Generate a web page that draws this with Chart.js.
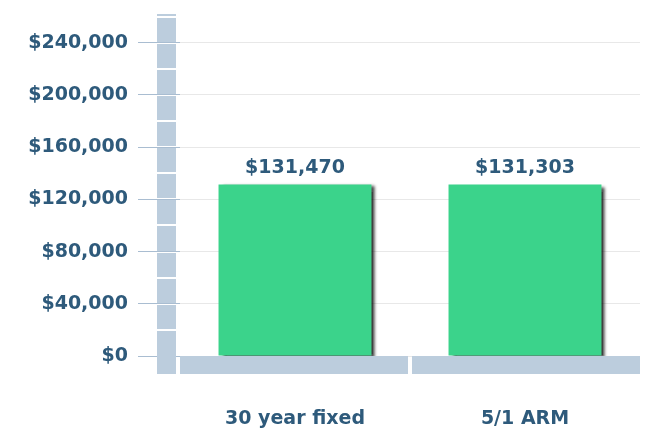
<!DOCTYPE html>
<html>
<head>
<meta charset="utf-8">
<script src="https://cdn.jsdelivr.net/npm/chart.js@4"></script>
<style>
  html, body { margin: 0; padding: 0; background: #ffffff; }
  #chart { display: block; }
</style>
</head>
<body>
<canvas id="chart" width="650" height="435"></canvas>
<script>
// データ
const categories = ["30 year fixed", "5/1 ARM"];
const totalCost = [131470, 131303];
const tickValues = [0, 40000, 80000, 120000, 160000, 200000, 240000];
const axisMax = 262000;

const textColor = "#2e5a7b";
const axisBlock = "#bccddd";
const barGreen = "#3bd38b";
const fontFamily = "'DejaVu Sans', sans-serif";

function money(v) {
  return "$" + v.toLocaleString("en-US");
}

// 棒の右側に影をつける
const shadowPlugin = {
  id: "barShadow",
  beforeDatasetDraw(chart) {
    const ctx = chart.ctx;
    ctx.save();
    ctx.shadowColor = "rgba(0,0,0,0.75)";
    ctx.shadowOffsetX = 4;
    ctx.shadowOffsetY = 2;
    ctx.shadowBlur = 3;
  },
  afterDatasetDraw(chart) {
    chart.ctx.restore();
  }
};

// 左の縦ブロックと下の横ブロック、棒の上の金額
const axisBlocksPlugin = {
  id: "axisBlocks",
  afterDatasetsDraw(chart) {
    const ctx = chart.ctx;
    const area = chart.chartArea;
    const y = chart.scales.y;
    const x = chart.scales.x;
    const baseBottom = area.bottom + 18;

    ctx.save();
    ctx.fillStyle = axisBlock;

    // 縦の柱 (20,000ごとに白い切れ目)
    const colLeft = area.left - 23;
    const colWidth = 19;
    let top = area.top;
    for (let v = 260000; v >= 20000; v -= 20000) {
      const py = Math.round(y.getPixelForValue(v));
      if (py - 1 > top) ctx.fillRect(colLeft, top, colWidth, py - 1 - top);
      top = py + 1;
    }
    ctx.fillRect(colLeft, top, colWidth, baseBottom - top);

    // 横の台 (カテゴリーごとに分ける)
    const half = (x.getPixelForValue(1) - x.getPixelForValue(0)) / 2;
    categories.forEach((c, i) => {
      const cx = x.getPixelForValue(i);
      const l = cx - half + (i === 0 ? 0 : 2);
      const r = cx + half - (i === categories.length - 1 ? 0 : 2);
      ctx.fillRect(l, area.bottom, r - l, baseBottom - area.bottom);
    });

    // 金額ラベル
    ctx.fillStyle = textColor;
    ctx.font = "bold 19px " + fontFamily;
    ctx.textAlign = "center";
    ctx.textBaseline = "bottom";
    const meta = chart.getDatasetMeta(0);
    meta.data.forEach((bar, i) => {
      ctx.fillText(money(totalCost[i]), bar.x, bar.y - 7);
    });
    ctx.restore();
  }
};

const ctx = document.getElementById("chart").getContext("2d");
new Chart(ctx, {
  type: "bar",
  data: {
    labels: categories,
    datasets: [{
      data: totalCost,
      backgroundColor: barGreen,
      borderWidth: 0,
      categoryPercentage: 1,
      barPercentage: 0.665
    }]
  },
  options: {
    responsive: false,
    animation: false,
    layout: { padding: { top: 14, right: 10, bottom: 0, left: 0 } },
    plugins: { legend: { display: false }, tooltip: { enabled: false } },
    scales: {
      x: {
        grid: { display: false, drawTicks: false },
        border: { display: false },
        ticks: {
          color: textColor,
          font: { family: fontFamily, size: 19, weight: "bold" },
          padding: 52
        },
        afterFit(scale) {
          scale.height = 79;
          scale.paddingLeft = 0;
          scale.paddingRight = 0;
        }
      },
      y: {
        min: 0,
        max: axisMax,
        afterBuildTicks(scale) {
          scale.ticks = tickValues.map(v => ({ value: v }));
        },
        grid: { color: "#e8e8e8", tickColor: "#a9bdd1", tickLength: 42, lineWidth: 1 },
        border: { display: false },
        ticks: {
          color: textColor,
          font: { family: fontFamily, size: 19, weight: "bold" },
          padding: 10,
          callback: v => money(v)
        },
        afterFit(scale) {
          scale.width = 180;
          scale.paddingTop = 0;
          scale.paddingBottom = 0;
        }
      }
    }
  },
  plugins: [shadowPlugin, axisBlocksPlugin]
});
</script>
</body>
</html>
